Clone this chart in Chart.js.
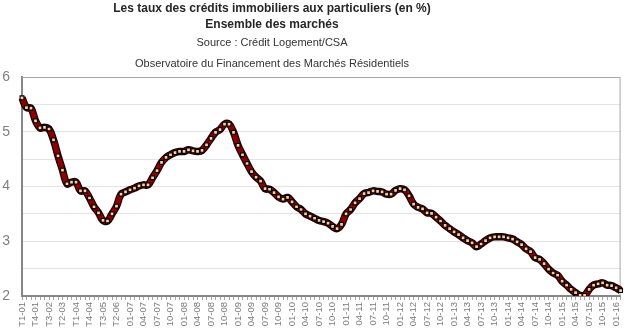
<!DOCTYPE html>
<html lang="fr">
<head>
<meta charset="utf-8">
<title>Taux des crédits immobiliers</title>
<script src="https://cdn.jsdelivr.net/npm/chart.js@4.4.1/dist/chart.umd.min.js"></script>
<style>
  html, body { margin: 0; padding: 0; background: #fff; }
  #wrap { position: relative; width: 634px; height: 335px; font-family: "Liberation Sans", Arial, sans-serif; }
  #graphique { position: absolute; left: 0; top: 0; }
  #titres div { position: absolute; left: 0; width: 544px; text-align: center; white-space: nowrap; }
  .gras { font-weight: bold; font-size: 12px; line-height: 14px; color: #262626; }
  .normal { font-size: 11px; line-height: 13px; color: #333; }
</style>
</head>
<body>
<div id="wrap">
  <canvas id="graphique" width="634" height="335"></canvas>
  <div id="titres">
    <div class="gras" style="top:1px">Les taux des crédits immobiliers aux particuliers (en %)</div>
    <div class="gras" style="top:17px">Ensemble des marchés</div>
    <div class="normal" style="top:36px">Source : Crédit Logement/CSA</div>
    <div class="normal" style="top:57px">Observatoire du Financement des Marchés Résidentiels</div>
  </div>
</div>
<script>
// trimestres 2001-2006 puis mois 2007-2016
const periodes = [
  'T1-01', 'T2-01', 'T3-01', 'T4-01', 'T1-02', 'T2-02', 'T3-02', 'T4-02',
  'T1-03', 'T2-03', 'T3-03', 'T4-03', 'T1-04', 'T2-04', 'T3-04', 'T4-04',
  'T1-05', 'T2-05', 'T3-05', 'T4-05', 'T1-06', 'T2-06', 'T3-06', 'T4-06',
  '01-07', '02-07', '03-07', '04-07', '05-07', '06-07', '07-07', '08-07', '09-07', '10-07', '11-07', '12-07',
  '01-08', '02-08', '03-08', '04-08', '05-08', '06-08', '07-08', '08-08', '09-08', '10-08', '11-08', '12-08',
  '01-09', '02-09', '03-09', '04-09', '05-09', '06-09', '07-09', '08-09', '09-09', '10-09', '11-09', '12-09',
  '01-10', '02-10', '03-10', '04-10', '05-10', '06-10', '07-10', '08-10', '09-10', '10-10', '11-10', '12-10',
  '01-11', '02-11', '03-11', '04-11', '05-11', '06-11', '07-11', '08-11', '09-11', '10-11', '11-11', '12-11',
  '01-12', '02-12', '03-12', '04-12', '05-12', '06-12', '07-12', '08-12', '09-12', '10-12', '11-12', '12-12',
  '01-13', '02-13', '03-13', '04-13', '05-13', '06-13', '07-13', '08-13', '09-13', '10-13', '11-13', '12-13',
  '01-14', '02-14', '03-14', '04-14', '05-14', '06-14', '07-14', '08-14', '09-14', '10-14', '11-14', '12-14',
  '01-15', '02-15', '03-15', '04-15', '05-15', '06-15', '07-15', '08-15', '09-15', '10-15', '11-15', '12-15',
  '01-16', '02-16'
];

const taux = [
  5.62, 5.44, 5.43, 5.20, 5.07, 5.08, 5.05, 4.85,
  4.56, 4.30, 4.05, 4.08, 4.08, 3.92, 3.92, 3.79,
  3.63, 3.52, 3.38, 3.37, 3.50, 3.64, 3.86, 3.90,
  3.94, 3.97, 4.01, 4.03, 4.03, 4.16, 4.29, 4.44, 4.53, 4.58, 4.62, 4.64,
  4.64, 4.67, 4.65, 4.64, 4.66, 4.76, 4.88, 4.99, 5.04, 5.14, 5.14, 4.99,
  4.75, 4.58, 4.42, 4.27, 4.17, 4.10, 3.96, 3.95, 3.89, 3.81, 3.77, 3.80,
  3.72, 3.63, 3.58, 3.50, 3.46, 3.42, 3.38, 3.36, 3.33, 3.27, 3.23, 3.31,
  3.50, 3.58, 3.70, 3.78, 3.87, 3.89, 3.92, 3.91, 3.90, 3.86, 3.86, 3.93,
  3.96, 3.94, 3.83, 3.68, 3.62, 3.59, 3.52, 3.51, 3.44, 3.37, 3.29, 3.23,
  3.17, 3.12, 3.06, 3.01, 2.97, 2.90, 2.95, 3.01, 3.06, 3.08, 3.08, 3.08,
  3.06, 3.04, 2.99, 2.94, 2.86, 2.81, 2.70, 2.67, 2.59, 2.49, 2.42, 2.38,
  2.27, 2.20, 2.12, 2.06, 2.01, 2.01, 2.12, 2.20, 2.22, 2.24, 2.20, 2.19,
  2.15, 2.10
];

const graduationsY = [2, 3, 4, 5, 6];

const ctx = document.getElementById('graphique').getContext('2d');

// cadre gris en haut et a droite de la zone du graphique
const cadre = {
  id: 'cadre',
  beforeDatasetsDraw(chart) {
    const { ctx, chartArea: a } = chart;
    ctx.save();
    ctx.strokeStyle = '#a6a6a6';
    ctx.lineWidth = 1;
    ctx.beginPath();
    ctx.moveTo(a.left, a.top + 0.5);
    ctx.lineTo(a.right - 0.5, a.top + 0.5);
    ctx.lineTo(a.right - 0.5, a.bottom);
    ctx.stroke();
    ctx.restore();
  }
};

new Chart(ctx, {
  type: 'line',
  data: {
    labels: periodes,
    datasets: [
      {
        data: taux,
        borderColor: '#8b0000',
        borderWidth: 5,
        tension: 0.4,
        pointStyle: 'rect',
        pointRadius: 2.7,
        pointBackgroundColor: '#fbcf9c',
        pointBorderColor: '#000',
        pointBorderWidth: 1.1,
        order: 1
      },
      {
        data: taux,
        borderColor: '#1e0000',
        borderWidth: 7.5,
        tension: 0.4,
        pointRadius: 0,
        order: 2
      }
    ]
  },
  options: {
    responsive: false,
    animation: false,
    layout: { padding: { top: 77, right: 2, left: 0, bottom: 0 } },
    plugins: {
      legend: { display: false },
      tooltip: { enabled: false },
      title: { display: false }
    },
    scales: {
      x: {
        grid: { drawOnChartArea: false, drawTicks: true, tickLength: 4, color: '#a6a6a6' },
        border: { color: '#868686', width: 2 },
        ticks: {
          autoSkip: false,
          minRotation: 90,
          maxRotation: 90,
          padding: 2,
          color: '#7a7a7a',
          font: { family: 'Liberation Sans', size: 9.5 },
          callback: (v, i) => i % 3 === 0 ? periodes[i] : ''
        },
        afterFit: (s) => { s.height = 39; }
      },
      y: {
        min: 2,
        max: 6,
        grid: { color: '#e3e3e3', drawTicks: false },
        border: { color: '#868686', width: 2 },
        ticks: {
          stepSize: 0.5,
          padding: 12,
          color: '#808080',
          font: { family: 'Liberation Sans', size: 14 },
          callback: v => graduationsY.includes(v) ? v : ''
        },
        afterFit: (s) => { s.width = 22; }
      }
    }
  },
  plugins: [cadre]
});
</script>
</body>
</html>
